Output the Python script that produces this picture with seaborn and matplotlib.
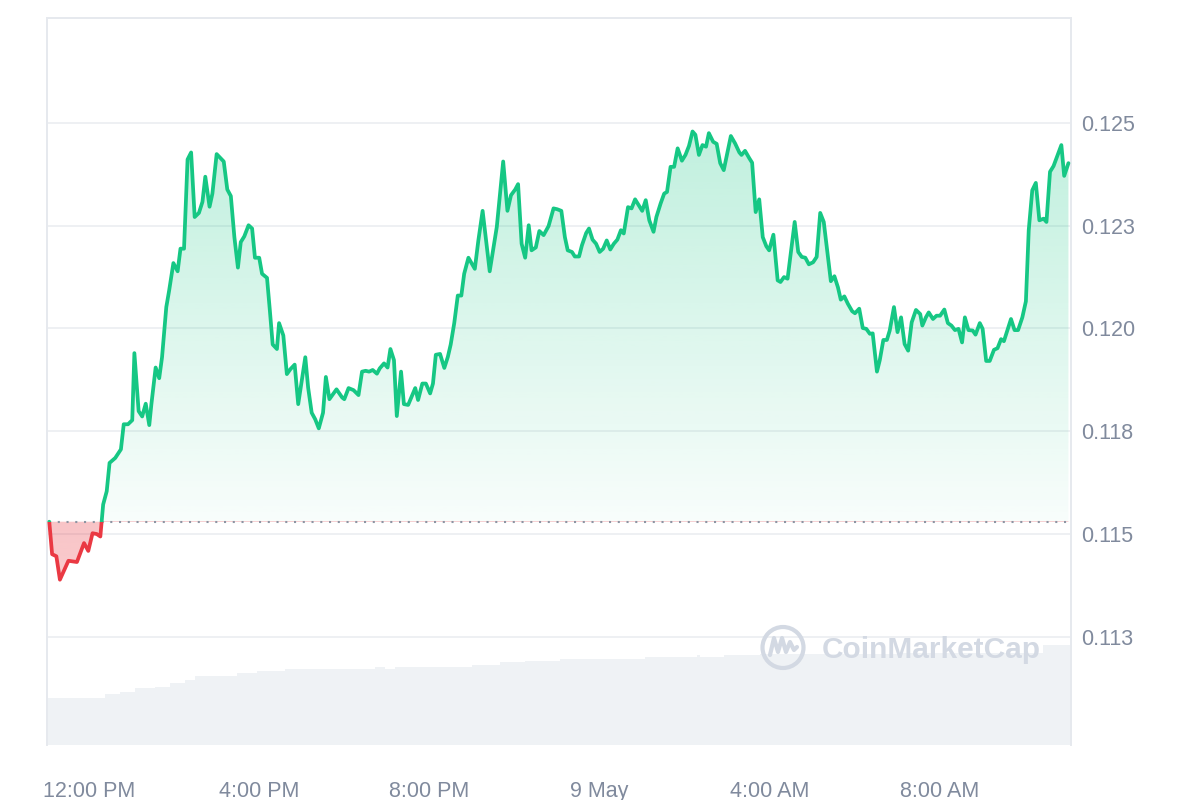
import matplotlib
matplotlib.use("Agg")
import matplotlib.dates as mdates
import matplotlib.pyplot as plt
import numpy as np
import pandas as pd
import seaborn as sns
from matplotlib.colors import to_rgb
from matplotlib.lines import Line2D
from matplotlib.patches import Circle, Rectangle

# price samples: minutes after 11:00 AM (8 May) and price in USD
price_minutes = [
    4, 8, 14, 19, 31, 43, 53, 59, 65, 71,
    76, 80, 85, 89, 97, 105, 109, 115, 121, 124,
    130, 135, 140, 145, 148, 154, 159, 163, 169, 173,
    179, 185, 189, 194, 199, 204, 209, 215, 220, 224,
    230, 234, 240, 250, 255, 260, 265, 270, 274, 279,
    285, 290, 294, 300, 304, 311, 315, 319, 325, 328,
    334, 339, 344, 350, 355, 365, 369, 374, 379, 384,
    390, 394, 399, 409, 417, 420, 426, 433, 440, 445,
    450, 455, 460, 466, 470, 476, 481, 485, 490, 494,
    500, 504, 510, 520, 524, 530, 535, 541, 545, 549,
    555, 561, 566, 570, 575, 580, 585, 589, 595, 604,
    609, 615, 625, 635, 644, 650, 655, 661, 665, 670,
    675, 680, 684, 690, 695, 701, 708, 715, 720, 726,
    731, 735, 741, 745, 751, 755, 761, 765, 770, 775,
    780, 785, 790, 795, 800, 805, 810, 814, 820, 825,
    830, 835, 840, 845, 850, 856, 860, 866, 871, 875,
    880, 885, 890, 896, 901, 906, 911, 915, 920, 925,
    930, 934, 940, 945, 950, 955, 965, 971, 977, 980,
    985, 991, 995, 1000, 1005, 1010, 1015, 1019, 1025, 1031,
    1035, 1040, 1045, 1055, 1060, 1065, 1070, 1075, 1081, 1086,
    1091, 1096, 1106, 1111, 1116, 1120, 1125, 1130, 1136, 1140,
    1146, 1151, 1156, 1161, 1165, 1171, 1175, 1180, 1185, 1189,
    1195, 1200, 1205, 1210, 1215, 1220, 1226, 1232, 1235, 1240,
    1244, 1250, 1255, 1260, 1266, 1271, 1276, 1281, 1286, 1291,
    1295, 1300, 1306, 1310, 1316, 1320, 1325, 1330, 1336, 1341,
    1346, 1350, 1355, 1360, 1365, 1370, 1376, 1381, 1385, 1390,
    1395, 1400, 1406, 1410, 1415, 1420, 1431, 1435, 1441,
]
prices = [
    0.11530, 0.11451, 0.11446, 0.11389, 0.11435, 0.11432, 0.11478, 0.11459, 0.11502, 0.11500,
    0.11494, 0.11572, 0.11604, 0.11673, 0.11685, 0.11706, 0.11767, 0.11767, 0.11777, 0.11940,
    0.11799, 0.11786, 0.11817, 0.11765, 0.11816, 0.11905, 0.11879, 0.11930, 0.12052, 0.12092,
    0.12159, 0.12139, 0.12194, 0.12194, 0.12411, 0.12428, 0.12271, 0.12281, 0.12308, 0.12369,
    0.12296, 0.12328, 0.12424, 0.12406, 0.12338, 0.12322, 0.12222, 0.12148, 0.12210, 0.12224,
    0.12251, 0.12243, 0.12172, 0.12172, 0.12133, 0.12123, 0.12044, 0.11961, 0.11950, 0.12013,
    0.11983, 0.11889, 0.11901, 0.11912, 0.11816, 0.11930, 0.11856, 0.11795, 0.11779, 0.11757,
    0.11795, 0.11882, 0.11828, 0.11852, 0.11832, 0.11828, 0.11855, 0.11850, 0.11838, 0.11895,
    0.11897, 0.11895, 0.11899, 0.11890, 0.11903, 0.11915, 0.11905, 0.11950, 0.11923, 0.11787,
    0.11895, 0.11816, 0.11814, 0.11855, 0.11826, 0.11866, 0.11866, 0.11842, 0.11866, 0.11936,
    0.11938, 0.11904, 0.11931, 0.11961, 0.12013, 0.12080, 0.12080, 0.12133, 0.12172, 0.12145,
    0.12214, 0.12286, 0.12139, 0.12247, 0.12406, 0.12286, 0.12324, 0.12338, 0.12351, 0.12206,
    0.12172, 0.12251, 0.12190, 0.12197, 0.12237, 0.12227, 0.12249, 0.12292, 0.12290, 0.12286,
    0.12222, 0.12190, 0.12186, 0.12175, 0.12175, 0.12202, 0.12232, 0.12243, 0.12216, 0.12206,
    0.12186, 0.12194, 0.12214, 0.12192, 0.12206, 0.12216, 0.12239, 0.12231, 0.12295, 0.12292,
    0.12314, 0.12300, 0.12286, 0.12312, 0.12263, 0.12235, 0.12271, 0.12304, 0.12328, 0.12332,
    0.12393, 0.12393, 0.12438, 0.12408, 0.12422, 0.12444, 0.12479, 0.12471, 0.12422, 0.12446,
    0.12442, 0.12475, 0.12454, 0.12449, 0.12402, 0.12385, 0.12468, 0.12450, 0.12428, 0.12422,
    0.12432, 0.12414, 0.12403, 0.12283, 0.12314, 0.12222, 0.12200, 0.12190, 0.12228, 0.12117,
    0.12113, 0.12125, 0.12121, 0.12259, 0.12186, 0.12174, 0.12172, 0.12156, 0.12161, 0.12174,
    0.12281, 0.12259, 0.12115, 0.12127, 0.12100, 0.12070, 0.12078, 0.12060, 0.12042, 0.12037,
    0.12048, 0.12001, 0.11999, 0.11987, 0.11988, 0.11895, 0.11923, 0.11972, 0.11972, 0.11995,
    0.12052, 0.11991, 0.12027, 0.11962, 0.11946, 0.12015, 0.12045, 0.12035, 0.12007, 0.12027,
    0.12039, 0.12023, 0.12031, 0.12031, 0.12046, 0.12013, 0.12007, 0.11996, 0.11999, 0.11966,
    0.12027, 0.11996, 0.11995, 0.11985, 0.12013, 0.11999, 0.11921, 0.11921, 0.11948, 0.11952,
    0.11974, 0.11969, 0.11996, 0.12023, 0.11996, 0.11996, 0.12027, 0.12066, 0.12239, 0.12336,
    0.12354, 0.12263, 0.12267, 0.12259, 0.12381, 0.12395, 0.12446, 0.12371, 0.12402,
]

# volume: step changes (minutes after 11:00 AM) and relative height
volume_minutes = [1, 83, 104, 125, 153, 174, 195, 209, 269, 297, 336, 463, 477,
                  491, 600, 640, 675, 724, 844, 917, 921, 955, 1006, 1203, 1405, 1445]
volume_values = [47, 51, 53, 57, 58, 62, 65, 69, 72, 74, 76, 78, 76,
                 78, 80, 83, 84, 86, 88, 90, 88, 90, 91, 92, 100, 100]

y_ticks = [0.1125, 0.115, 0.1175, 0.12, 0.1225, 0.125]
y_tick_labels = ["0.113", "0.115", "0.118", "0.120", "0.123", "0.125"]
x_ticks = ["2024-05-08 12:00", "2024-05-08 16:00", "2024-05-08 20:00",
           "2024-05-09 00:00", "2024-05-09 04:00", "2024-05-09 08:00"]
x_tick_labels = ["12:00 PM", "4:00 PM", "8:00 PM", "9 May", "4:00 AM", "8:00 AM"]

GREEN = "#16c784"
RED = "#ea3943"
TEXT = "#808a9d"
GRID = "#eef0f3"

sns.set_style("white")
plt.rcParams["font.family"] = ["Liberation Sans", "DejaVu Sans"]

start = pd.Timestamp("2024-05-08 11:00")
df = pd.DataFrame({
    "time": start + pd.to_timedelta(price_minutes, unit="min"),
    "price": prices,
})
vol_times = start + pd.to_timedelta(volume_minutes, unit="min")
baseline = prices[0]

x0 = mdates.date2num(start + pd.Timedelta(minutes=0.8))
x1 = mdates.date2num(start + pd.Timedelta(minutes=1444.6))
y0, y1 = 0.10987, 0.12755

fig = plt.figure(figsize=(12, 8), dpi=100)
ax = fig.add_axes([47 / 1200, 55 / 800, 1024 / 1200, 727 / 800])
ax2 = ax.twinx()
ax.set_zorder(ax2.get_zorder() + 1)
ax.patch.set_visible(False)

# volume in the background
ax2.fill_between(vol_times, volume_values, 0, step="post", color="#eff2f5", lw=0)
ax2.set_ylim(0, 727)
ax2.set_yticks([])
for s in ax2.spines.values():
    s.set_visible(False)

# gradient fills clipped to the area between price and baseline
poly = ax.fill_between(df["time"], df["price"], baseline, color="none", lw=0)
clip = poly.get_paths()[0]

g = np.zeros((256, 1, 4))
g[..., :3] = to_rgb(GREEN)
g[..., 3] = np.linspace(0.03, 0.34, 256)[:, None]
im_g = ax.imshow(g, extent=[x0, x1, baseline, y1], origin="lower",
                 aspect="auto", zorder=1)
im_g.set_clip_path(clip, ax.transData)

r = np.zeros((256, 1, 4))
r[..., :3] = to_rgb(RED)
r[..., 3] = np.linspace(0.16, 0.3, 256)[:, None]
im_r = ax.imshow(r, extent=[x0, x1, y0, baseline], origin="lower",
                 aspect="auto", zorder=1)
im_r.set_clip_path(clip, ax.transData)

# dotted reference line at the opening price
ax.plot([df["time"].iloc[0], df["time"].iloc[-1]], [baseline, baseline],
        color="#8d95a3", lw=1.5, dashes=(1, 3.2), zorder=2)

# price line, green above the opening price, red below
sns.lineplot(data=df, x="time", y="price", ax=ax, color=GREEN, lw=2.7, zorder=3)
sns.lineplot(data=df, x="time", y="price", ax=ax, color=RED, lw=2.7, zorder=3)
up_line, down_line = ax.lines[-2], ax.lines[-1]
up_line.set_clip_path(Rectangle((x0, baseline), x1 - x0, y1 - baseline,
                                transform=ax.transData))
down_line.set_clip_path(Rectangle((x0, y0), x1 - x0, baseline - y0,
                                  transform=ax.transData))
for ln in (up_line, down_line):
    ln.set_solid_joinstyle("round")

ax.set_xlim(x0, x1)
ax.set_ylim(y0, y1)
ax.set_xlabel("")
ax.set_ylabel("")

ax.set_xticks(pd.to_datetime(x_ticks))
ax.set_xticklabels(x_tick_labels)
ax.set_yticks(y_ticks)
ax.set_yticklabels(y_tick_labels)
ax.yaxis.tick_right()
ax.tick_params(axis="x", length=0, pad=26, labelsize=15.5, labelcolor=TEXT)
ax.tick_params(axis="y", length=0, pad=7, labelsize=15.5, labelcolor=TEXT,
               labelright=True, labelleft=False)
ax.grid(axis="y", color=GRID, lw=1.4)
ax.grid(axis="x", visible=False)
ax.set_axisbelow(True)

for name, s in ax.spines.items():
    s.set_color("#e6e9ee")
    s.set_linewidth(1.4)
ax.spines["bottom"].set_visible(False)

# watermark
wm = "#d3d9e3"
fig.text(822 / 1200, 1 - 650 / 800, "CoinMarketCap", ha="left", va="center",
         fontsize=21.5, fontweight="bold", color=wm)
fig.patches.append(Circle((7.83, 1.525), 0.205, transform=fig.dpi_scale_trans,
                          fill=False, ec=wm, lw=3))
fig.lines.append(Line2D([7.70, 7.74, 7.78, 7.82, 7.86, 7.90, 7.94, 7.97],
                        [1.45, 1.62, 1.48, 1.62, 1.48, 1.58, 1.50, 1.53],
                        transform=fig.dpi_scale_trans, color=wm, lw=3,
                        solid_joinstyle="round", solid_capstyle="round"))

fig.savefig("out.png", dpi=100)
